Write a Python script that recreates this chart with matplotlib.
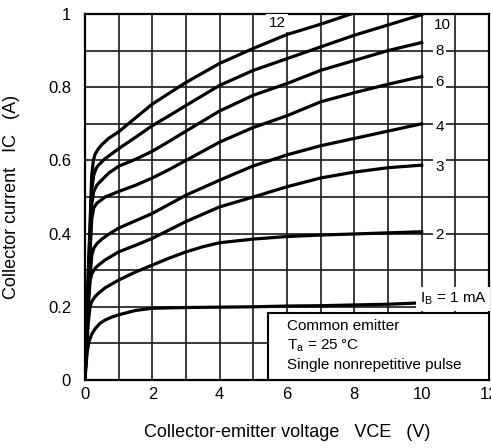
import matplotlib.pyplot as plt

plt.rcParams['font.family'] = ['Liberation Sans', 'DejaVu Sans']

# base current (mA) -> measured IC-VCE points
vce_1 = [0, 0.03, 0.07, 0.12, 0.2, 0.3, 0.45, 0.6, 0.8, 1, 1.5, 2, 3, 4, 5, 6, 7, 8, 9, 9.8]
ic_1 = [0, 0.04, 0.08, 0.105, 0.125, 0.14, 0.155, 0.164, 0.172, 0.178, 0.19, 0.196,
        0.198, 0.199, 0.2, 0.202, 0.203, 0.205, 0.207, 0.21]

vce_2 = [0, 0.05, 0.1, 0.15, 0.2, 0.3, 0.4, 0.6, 1, 1.5, 2, 2.5, 3, 3.5, 4, 5, 6, 7, 8, 9, 10]
ic_2 = [0, 0.09, 0.16, 0.2, 0.214, 0.228, 0.237, 0.252, 0.273, 0.295, 0.314, 0.333,
        0.35, 0.364, 0.375, 0.385, 0.392, 0.396, 0.399, 0.402, 0.405]

vce_3 = [0, 0.05, 0.1, 0.15, 0.2, 0.3, 0.4, 0.6, 1, 1.5, 2, 2.5, 3, 4, 5, 6, 7, 8, 9, 10]
ic_3 = [0, 0.1, 0.2, 0.27, 0.29, 0.305, 0.314, 0.328, 0.35, 0.368, 0.387, 0.41,
        0.433, 0.473, 0.5, 0.528, 0.552, 0.568, 0.58, 0.587]

vce_4 = [0, 0.1, 0.2, 0.26, 0.35, 0.5, 0.7, 1, 1.5, 2, 2.5, 3, 4, 5, 6, 7, 8, 9, 10]
ic_4 = [0, 0.22, 0.34, 0.36, 0.372, 0.385, 0.398, 0.415, 0.435, 0.455, 0.48, 0.505,
        0.546, 0.585, 0.615, 0.64, 0.66, 0.68, 0.7]

vce_6 = [0, 0.1, 0.2, 0.26, 0.35, 0.6, 1, 1.5, 2, 2.5, 3, 4, 5, 6, 7, 8, 9, 10]
ic_6 = [0, 0.25, 0.44, 0.47, 0.483, 0.5, 0.515, 0.532, 0.552, 0.575, 0.6, 0.65,
        0.69, 0.722, 0.76, 0.785, 0.808, 0.829]

vce_8 = [0, 0.1, 0.2, 0.26, 0.35, 0.45, 0.7, 1, 1.5, 2, 2.5, 3, 4, 5, 6, 7, 8, 9, 10]
ic_8 = [0, 0.27, 0.48, 0.515, 0.532, 0.542, 0.565, 0.584, 0.603, 0.625, 0.652, 0.68,
        0.735, 0.778, 0.81, 0.846, 0.873, 0.9, 0.922]

vce_10 = [0, 0.1, 0.2, 0.26, 0.33, 0.4, 0.6, 1, 1.5, 2, 2.5, 3, 4, 5, 6, 7, 8, 9, 10]
ic_10 = [0, 0.29, 0.52, 0.56, 0.578, 0.587, 0.605, 0.632, 0.663, 0.695, 0.722, 0.75,
         0.805, 0.846, 0.878, 0.91, 0.942, 0.97, 0.998]

vce_12 = [0, 0.1, 0.2, 0.25, 0.3, 0.4, 0.5, 0.7, 1, 1.34, 2, 3, 4, 5, 6, 7, 7.9]
ic_12 = [0, 0.3, 0.56, 0.6, 0.617, 0.632, 0.643, 0.66, 0.678, 0.704, 0.754, 0.813,
         0.865, 0.906, 0.944, 0.972, 1.0]

curves = [(vce_1, ic_1), (vce_2, ic_2), (vce_3, ic_3), (vce_4, ic_4),
          (vce_6, ic_6), (vce_8, ic_8), (vce_10, ic_10), (vce_12, ic_12)]

# where each curve's IB label sits
label_pos = {'2': (10.4, 0.397), '3': (10.4, 0.582), '4': (10.4, 0.69),
             '6': (10.4, 0.815), '8': (10.4, 0.9), '10': (10.35, 0.97),
             '12': (5.45, 0.975)}

fig = plt.figure(figsize=(4.91, 4.48), dpi=100)
ax = fig.add_axes([0.1731, 0.1518, 0.8229, 0.817])

for x, y in curves:
    ax.plot(x, y, color='black', lw=2.3, solid_joinstyle='round', zorder=3)

ax.set_xlim(0, 12)
ax.set_ylim(0, 1)
ax.set_xticks(range(0, 13, 2))
ax.set_yticks([0, 0.2, 0.4, 0.6, 0.8, 1.0])
ax.set_yticklabels(['0', '0.2', '0.4', '0.6', '0.8', '1'])
ax.set_xticks(range(0, 13), minor=True)
ax.set_yticks([i / 10 for i in range(11)], minor=True)
ax.tick_params(which='both', length=0, labelsize=12)
ax.tick_params(axis='x', pad=5)
ax.tick_params(axis='y', pad=10)
ax.grid(which='both', color='#1a1a1a', lw=1.2)
ax.set_axisbelow(True)
for s in ax.spines.values():
    s.set_linewidth(1.6)

for lab, (x, y) in label_pos.items():
    ax.text(x, y, lab, fontsize=11, ha='left', va='center', zorder=4,
            bbox=dict(facecolor='white', edgecolor='none', pad=1.5))

ax.text(9.95, 0.222, r'I$_\mathregular{B}$ = 1 mA', fontsize=11, ha='left',
        va='center', zorder=4,
        bbox=dict(facecolor='white', edgecolor='none', pad=2.5))

ax.text(6.0, 0.094,
        'Common emitter\n'
        r'T$_\mathregular{a}$ = 25' '\u2009\u00b0C\n'
        'Single nonrepetitive pulse',
        fontsize=11, ha='left', va='center', linespacing=1.35, zorder=5)
ax.add_patch(plt.Rectangle((5.43, 0.0), 6.57, 0.184, facecolor='white',
                           edgecolor='black', lw=1.5, zorder=4))

ax.set_xlabel('Collector-emitter voltage   VCE   (V)', fontsize=13, labelpad=16)
ax.set_ylabel('Collector current   IC   (A)', fontsize=13, labelpad=20)

fig.savefig('out.png', dpi=100)
